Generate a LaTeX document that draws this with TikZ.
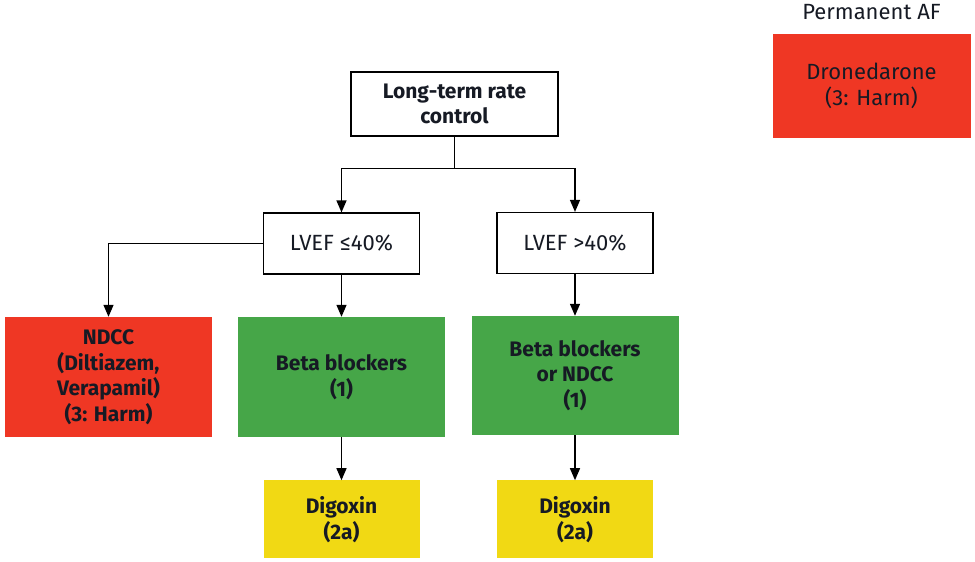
\documentclass[tikz,border=0pt]{standalone}
\usepackage{fontspec}
\setmainfont{Fira Sans}
\usepackage{tikz}
\usetikzlibrary{positioning, calc, arrows.meta}
\definecolor{harmred}{HTML}{EF3724}
\definecolor{recgreen}{HTML}{46A648}
\definecolor{weakyellow}{HTML}{F1D914}
\definecolor{ink}{HTML}{161A24}
\tikzstyle{Arrow} = [
	line width=1.3pt,
	-{Triangle[length=12pt, width=10pt]}
	]
\tikzstyle{Line} = [line width=1.3pt]
\tikzstyle{Plain} = [
	draw, line width=1.2pt, fill=white, align=center,
	text=ink, inner sep=0pt
	]
\tikzstyle{Colour} = [
	align=center, text=ink, inner sep=0pt,
	font=\fontsize{21}{25.5}\selectfont\bfseries
	]

\begin{document}
\begin{tikzpicture}[x=1pt, y=-1pt, font=\fontsize{22}{26}\selectfont]
	\useasboundingbox (0,0) rectangle (975,562);
	%nodes:
		\node [Plain, font=\fontsize{21}{25.5}\selectfont\bfseries,
			minimum width=207pt, minimum height=64pt] (1) at (454.5,104) {Long-term rate\\control};
		\node [Plain, minimum width=156pt, minimum height=61pt] (2) at (341.5,243.5) {LVEF ≤40\%};
		\node [Plain, minimum width=156pt, minimum height=61pt] (3) at (575,243) {LVEF >40\%};
		\node [Colour, fill=harmred, minimum width=207pt, minimum height=120pt] (4) at (108.5,377) {NDCC\\(Diltiazem,\\Verapamil)\\(3: Harm)};
		\node [Colour, fill=recgreen, minimum width=207pt, minimum height=120pt] (5) at (341.5,377) {Beta blockers\\(1)};
		\node [Colour, fill=recgreen, minimum width=207pt, minimum height=119pt] (6) at (575,375.5) {Beta blockers\\or NDCC\\(1)};
		\node [Colour, fill=weakyellow, minimum width=156pt, minimum height=78pt, below=43pt of 5] (7) {Digoxin\\(2a)};
		\node [Colour, fill=weakyellow, minimum width=156pt, minimum height=78pt, below=45pt of 6] (8) {Digoxin\\(2a)};
		\node [align=center, text=ink, fill=harmred, inner sep=0pt,
			minimum width=198pt, minimum height=104pt] (9) at (871.5,85.5) {Dronedarone\\(3: Harm)};
		\node [text=ink, inner sep=0pt, above=13pt of 9] (10) {Permanent AF};
		\coordinate (s) at ($(1.south)+(0,32)$);
	%edges:
		\draw[Line] (1.south) -- (s);
		\draw[Arrow] (s) -| (2.north);
		\draw[Arrow] (s) -| (3.north);
		\draw[Arrow] (2.west) -| (4.north);
		\draw[Arrow] (2.south) -- (5.north);
		\draw[Arrow] (3.south) -- (6.north);
		\draw[Arrow] (5.south) -- (7.north);
		\draw[Arrow] (6.south) -- (8.north);
\end{tikzpicture}
\end{document}
